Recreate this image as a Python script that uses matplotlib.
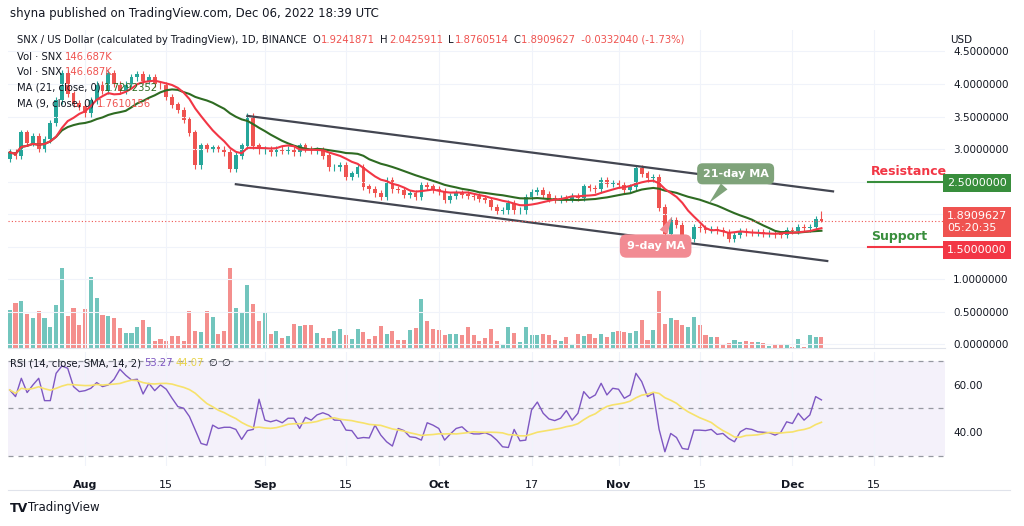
import numpy as np
import pandas as pd
import matplotlib.pyplot as plt

# daily closes, Jul 19 .. Dec 6 2022
closes = [2.95, 2.9, 3.25, 3.1, 3.2, 3.0, 3.15, 3.4, 3.75, 4.17,
          3.85, 3.7, 3.65, 3.55, 3.75, 4.0, 3.9, 4.17, 4.0, 3.9,
          4.0, 4.1, 4.15, 4.05, 4.1, 4.0, 3.98, 3.8, 3.68, 3.6,
          3.45, 3.25, 2.75, 3.05, 3.0, 3.02, 3.0, 2.95, 2.7, 2.9,
          3.05, 3.5, 3.05, 2.98, 3.0, 2.95, 3.0, 2.97, 3.0, 2.95,
          3.05, 3.0, 2.98, 2.98, 2.9, 2.72, 2.72, 2.75, 2.57, 2.62,
          2.72, 2.42, 2.38, 2.32, 2.27, 2.52, 2.38, 2.37, 2.3, 2.32,
          2.26, 2.45, 2.42, 2.38, 2.35, 2.22, 2.28, 2.32, 2.3, 2.28,
          2.27, 2.24, 2.22, 2.11, 2.05, 2.06, 2.17, 2.06, 2.06, 2.26,
          2.34, 2.36, 2.3, 2.24, 2.22, 2.25, 2.23, 2.27, 2.25, 2.42,
          2.4, 2.38, 2.52, 2.46, 2.48, 2.45, 2.37, 2.42, 2.7, 2.62,
          2.55, 2.57, 2.1, 1.7, 1.9, 1.83, 1.6, 1.62, 1.8, 1.78,
          1.76, 1.77, 1.75, 1.72, 1.62, 1.68, 1.73, 1.72, 1.71, 1.72,
          1.7, 1.71, 1.69, 1.68, 1.75, 1.74, 1.8, 1.78, 1.8, 1.9241871,
          1.8909627]
first_open = 2.85
last_high = 2.0425911
last_low = 1.8760514

# volume in thousands
volumes = [500, 590, 610, 450, 390, 480, 390, 280, 560, 1040,
           420, 520, 300, 510, 930, 650, 430, 420, 390, 260,
           200, 200, 280, 370, 280, 90, 120, 100, 160, 160,
           100, 480, 230, 210, 480, 400, 180, 220, 1040, 520,
           470, 820, 570, 350, 470, 180, 220, 130, 160, 310,
           290, 300, 300, 200, 130, 130, 230, 250, 170, 120,
           250, 210, 120, 160, 290, 180, 220, 110, 110, 240,
           260, 640, 350, 250, 240, 170, 180, 180, 170, 270,
           170, 100, 130, 250, 100, 50, 270, 200, 80, 280,
           170, 170, 190, 170, 110, 100, 150, 60, 190, 160,
           180, 130, 190, 150, 210, 220, 210, 200, 220, 360,
           110, 240, 740, 310, 390, 370, 300, 270, 400, 300,
           170, 150, 140, 60, 65, 110, 80, 95, 75, 75,
           70, 30, 60, 40, 50, 20, 120, 20, 170, 150,
           146.687]

rsi = [57.8, 55.0, 62.7, 56.7, 59.9, 62.7, 53.3, 53.3, 64.8, 67.9,
       66.9, 59.2, 57.1, 57.5, 58.5, 60.9, 59.2, 59.9, 62.3, 66.5,
       64.0, 62.0, 62.3, 56.1, 60.6, 57.5, 59.9, 58.1, 54.3, 50.8,
       50.1, 46.6, 40.9, 35.3, 34.6, 43.0, 41.6, 42.1, 42.1, 41.2,
       37.0, 40.7, 41.2, 53.9, 45.1, 44.4, 45.1, 44.0, 45.9, 45.9,
       41.6, 46.3, 45.1, 47.3, 48.2, 47.3, 45.1, 45.1, 40.9, 40.7,
       37.4, 37.8, 37.6, 43.0, 38.8, 36.0, 34.2, 41.6, 40.7, 38.1,
       37.8, 36.7, 44.0, 43.0, 41.6, 36.7, 39.3, 41.6, 42.3, 40.1,
       39.3, 39.3, 39.8, 38.8, 36.7, 33.9, 33.6, 41.2, 36.4, 36.7,
       49.4, 52.7, 48.0, 45.6, 44.9, 45.9, 49.1, 45.1, 48.0, 57.1,
       54.3, 55.7, 60.6, 55.7, 58.5, 58.1, 54.3, 55.7, 64.8, 61.3,
       55.0, 56.4, 41.2, 31.8, 39.5, 37.8, 33.2, 32.8, 40.9, 40.9,
       40.7, 41.2, 39.1, 39.5, 37.4, 36.0, 40.2, 41.6, 41.2, 40.2,
       40.0, 39.8, 38.8, 40.0, 44.4, 43.7, 48.0, 45.1, 47.3, 55.0,
       53.6]

dates = pd.date_range("2022-07-19", periods=len(closes), freq="D")
tick_dates = ["2022-08-01", "2022-08-15", "2022-09-01", "2022-09-15", "2022-10-01",
              "2022-10-17", "2022-11-01", "2022-11-15", "2022-12-01", "2022-12-15"]
tick_labels = ["Aug", "15", "Sep", "15", "Oct", "17", "Nov", "15", "Dec", "15"]
price_ticks = [0.0, 0.5, 1.0, 1.5, 2.0, 2.5, 3.0, 3.5, 4.0, 4.5]

# channel lines (day index, price)
upper_x, upper_y = [41, 142], [3.51, 2.35]
lower_x, lower_y = [39, 141], [2.46, 1.28]
resistance = 2.5
support = 1.5

UP = "#26a69a"
DOWN = "#ef5350"
GRID = "#f0f3fa"
TXT = "#131722"

c = np.array(closes)
o = np.r_[first_open, c[:-1]]
n = len(c)
x = np.arange(n)
t0 = dates[0]
tick_pos = [(pd.Timestamp(d) - t0).days for d in tick_dates]
up = c >= o
hi = np.maximum(o, c) + 0.05
lo = np.minimum(o, c) - 0.05
hi[-1], lo[-1] = last_high, last_low

ma21 = pd.Series(c).rolling(21, min_periods=1).mean()
ma9 = pd.Series(c).rolling(9, min_periods=1).mean()
rsi_sma = pd.Series(rsi).rolling(14, min_periods=1).mean()

fig = plt.figure(figsize=(10.24, 5.26), dpi=100)
ax = fig.add_axes([0.0078, 0.338, 0.915, 0.605])
axr = fig.add_axes([0.0078, 0.114, 0.915, 0.217], sharex=ax)
xmax = 161.3

# volume overlay
axv = ax.twinx()
axv.bar(x, volumes, width=0.7, color=np.where(up, UP, DOWN), alpha=0.65)
axv.set_ylim(0, 4134)
axv.axis("off")
ax.set_zorder(axv.get_zorder() + 1)
ax.patch.set_visible(False)

ax.vlines(x, lo, hi, color=np.where(up, UP, DOWN), lw=0.8)
ax.bar(x, np.abs(c - o) + 0.005, bottom=np.minimum(o, c), width=0.65,
       color=np.where(up, UP, DOWN))
ax.plot(x, ma21, color="#2e6b22", lw=1.5)
ax.plot(x, ma9, color="#f23645", lw=1.5)
ax.plot(upper_x, upper_y, color="#434651", lw=1.6)
ax.plot(lower_x, lower_y, color="#434651", lw=1.6)
ax.axhline(c[-1], color=DOWN, ls=(0, (1, 2)), lw=0.8)
ax.plot([148, xmax], [resistance, resistance], color="#388e3c", lw=1.5)
ax.plot([148, xmax], [support, support], color="#f23645", lw=1.5)
ax.text(148.5, 2.55, "Resistance", color="#f23645", fontsize=9, fontweight="bold", va="bottom")
ax.text(148.5, 1.55, "Support", color="#388e3c", fontsize=9, fontweight="bold", va="bottom")

ax.annotate("21-day MA", xy=(120.3, 2.14), xytext=(125.2, 2.62), color="white", fontsize=8,
            fontweight="bold", ha="center", va="center",
            bbox=dict(boxstyle="round,pad=0.5", fc="#7fa37a", ec="none"),
            arrowprops=dict(arrowstyle="wedge,tail_width=0.8", fc="#7fa37a", ec="none"))
ax.annotate("9-day MA", xy=(114.5, 2.0), xytext=(111.4, 1.51), color="white", fontsize=8,
            fontweight="bold", ha="center", va="center",
            bbox=dict(boxstyle="round,pad=0.6", fc="#f28b93", ec="none"),
            arrowprops=dict(arrowstyle="wedge,tail_width=0.8", fc="#f28b93", ec="none"))

ax.set_xlim(-0.3, xmax)
ax.set_ylim(-0.06, 4.83)
ax.set_xticks(tick_pos)
ax.set_yticks(price_ticks)
# levels covered by the coloured price boxes get no plain label
covered = (1.5, 2.0, 2.5)
ax.set_yticklabels(["" if p in covered else f"{p:.7f}" for p in price_ticks])
ax.yaxis.tick_right()
ax.tick_params(axis="y", length=0, labelsize=7.5, labelcolor=TXT, pad=6)
ax.tick_params(axis="x", length=0, labelbottom=False)
ax.grid(True, color=GRID, lw=0.8)
for s in ax.spines.values():
    s.set_visible(False)
ax.spines["bottom"].set_visible(True)
ax.spines["bottom"].set_color("#e0e3eb")

# RSI panel
axr.axhspan(30, 70, color="#7e57c2", alpha=0.08, lw=0)
for lvl in (70, 50, 30):
    axr.axhline(lvl, color="#9598a1", ls=(0, (4, 4)), lw=0.9)
axr.plot(x, rsi, color="#7e57c2", lw=1)
axr.plot(x, rsi_sma, color="#f7e26b", lw=1.2)
axr.set_ylim(25.8, 73.8)
axr.set_yticks([40, 60])
axr.set_yticklabels(["40.00", "60.00"])
axr.yaxis.tick_right()
axr.tick_params(axis="y", length=0, labelsize=7.5, labelcolor=TXT, pad=6)
axr.set_xticks(tick_pos)
axr.set_xticklabels(tick_labels)
axr.tick_params(axis="x", length=0, labelsize=8, labelcolor=TXT, pad=10)
for lab, txt in zip(axr.get_xticklabels(), tick_labels):
    if not txt.isdigit():
        lab.set_fontweight("bold")
axr.grid(True, axis="x", color=GRID, lw=0.8)
for s in axr.spines.values():
    s.set_visible(False)

renderer = fig.canvas.get_renderer()


def chain(px, py, parts, fs=7.2):
    """write text pieces one after another from pixel (px, py)"""
    xx = px
    for s, col, g in parts:
        t = fig.text(xx / 1024, 1 - py / 526, s, fontsize=fs, color=col, va="center")
        xx = t.get_window_extent(renderer).x1 + g


fig.text(10 / 1024, 1 - 14 / 526, "shyna published on TradingView.com, Dec 06, 2022 18:39 UTC",
         fontsize=8.5, color=TXT, va="center")
chain(17, 40, [("SNX / US Dollar (calculated by TradingView), 1D, BINANCE", TXT, 6),
               ("O", TXT, 1), ("1.9241871", DOWN, 5), ("H", TXT, 1), ("2.0425911", DOWN, 5),
               ("L", TXT, 1), ("1.8760514", DOWN, 5), ("C", TXT, 1),
               ("1.8909627  -0.0332040 (-1.73%)", DOWN, 0)])
chain(17, 57, [("Vol · SNX", TXT, 3), ("146.687K", DOWN, 0)])
chain(17, 72, [("Vol · SNX", TXT, 3), ("146.687K", DOWN, 0)])
chain(17, 88, [("MA (21, close, 0)", TXT, 3), ("1.7292352", "#2e6b22", 0)])
chain(17, 104, [("MA (9, close, 0)", TXT, 3), ("1.7610156", DOWN, 0)])
fig.text(950 / 1024, 1 - 40 / 526, "USD", fontsize=7.5, color=TXT, va="center")
chain(10, 363, [("RSI (14, close, SMA, 14, 2)", TXT, 3), ("53.27", "#7e57c2", 3),
                ("44.07", "#e8d44d", 4), ("∅", TXT, 4), ("∅", TXT, 0)])

# price boxes on axis
fig.text(947 / 1024, 1 - 183 / 526, "2.5000000", fontsize=8, color="white", va="center",
         bbox=dict(boxstyle="square,pad=0.35", fc="#388e3c", ec="none"))
fig.text(947 / 1024, 1 - 222 / 526, "1.8909627\n05:20:35", fontsize=8, color="white", va="center",
         linespacing=1.3, bbox=dict(boxstyle="square,pad=0.35", fc=DOWN, ec="none"))
fig.text(947 / 1024, 1 - 250 / 526, "1.5000000", fontsize=8, color="white", va="center",
         bbox=dict(boxstyle="square,pad=0.35", fc="#f23645", ec="none"))

fig.add_artist(plt.Line2D([8 / 1024, 1010 / 1024], [1 - 490 / 526] * 2, color="#e0e3eb", lw=0.8))
fig.text(10 / 1024, 1 - 508 / 526, "TV", fontsize=9, fontweight="bold", color=TXT, va="center")
fig.text(28 / 1024, 1 - 508 / 526, "TradingView", fontsize=8.5, color=TXT, va="center")

fig.savefig("out.png", dpi=100)
